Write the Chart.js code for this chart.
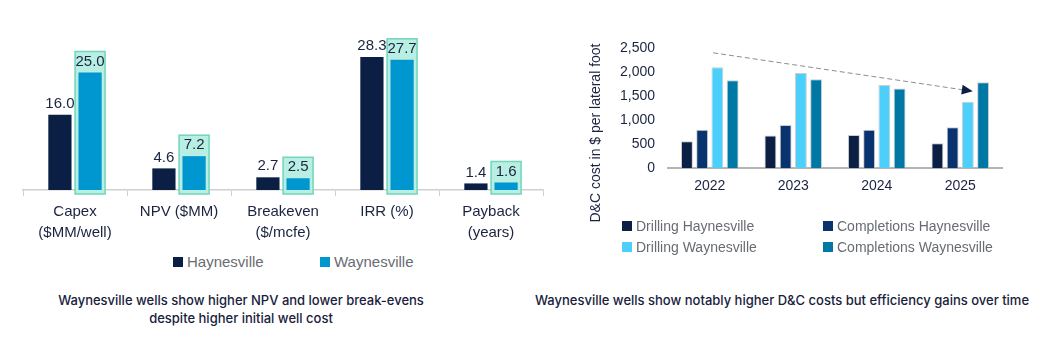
<!DOCTYPE html>
<html>
<head>
<meta charset="utf-8">
<script src="https://cdn.jsdelivr.net/npm/chart.js@4"></script>
<style>
  body { margin: 0; background: #fff; width: 1044px; height: 342px; overflow: hidden; position: relative; font-family: "Liberation Sans", Arial, sans-serif; }
  .box { position: absolute; }
  .legend { position: absolute; display: grid; color: #686c72; white-space: nowrap; }
  .legend span.sq { display: inline-block; width: 10px; height: 10px; margin-right: 4px; vertical-align: 0px; }
  .caption { position: absolute; text-align: center; font-family: Inter, "Noto Sans", sans-serif; font-size: 13px; font-weight: 500; line-height: 18px; color: #17213d; }
</style>
</head>
<body>
<div class="box" style="left:0;top:0;width:582px;height:248px"><canvas id="metrics"></canvas></div>
<div class="legend" id="legendLeft" style="left:173px;top:252px;grid-template-columns:147px 120px;font-size:15px;line-height:20px"></div>
<div class="caption" style="left:40px;top:291px;width:402px">Waynesville wells show higher NPV and lower break-evens<br>despite higher initial well cost</div>

<div class="box" style="left:578px;top:0;width:444px;height:230px"><canvas id="costs"></canvas></div>
<div class="legend" id="legendRight" style="left:622px;top:216px;grid-template-columns:201px 200px;font-size:14px;line-height:21px"></div>
<div class="caption" style="left:522px;top:291px;width:520px">Waynesville wells show notably higher D&amp;C costs but efficiency gains over time</div>

<script>
// left chart data
const metricLabels = [['Capex', '($MM/well)'], 'NPV ($MM)', ['Breakeven', '($/mcfe)'], 'IRR (%)', ['Payback', '(years)']];
const haynesville = [16.0, 4.6, 2.7, 28.3, 1.4];
const waynesville = [25.0, 7.2, 2.5, 27.7, 1.6];

// right chart data
const years = ['2022', '2023', '2024', '2025'];
const drillingHay = [560, 680, 690, 520];
const completionsHay = [800, 900, 800, 850];
const drillingWay = [2100, 1980, 1730, 1380];
const completionsWay = [1830, 1850, 1660, 1790];
const costTicks = [0, 500, 1000, 1500, 2000, 2500];

const textDark = '#1b2340';
const fontName = '"Liberation Sans", Arial, sans-serif';

function buildLegend(el, items) {
    items.forEach(it => {
        const d = document.createElement('div');
        d.innerHTML = '<span class="sq" style="background:' + it.color + '"></span>' + it.label;
        el.appendChild(d);
    });
}

// box behind Waynesville bars + value labels
const highlightBox = {
    id: 'highlightBox',
    beforeDatasetsDraw(chart) {
        const ctx = chart.ctx;
        const base = chart.scales.y.getPixelForValue(0);
        chart.getDatasetMeta(1).data.forEach(bar => {
            ctx.save();
            ctx.fillStyle = '#b8efe2';
            ctx.strokeStyle = '#72d5bc';
            ctx.lineWidth = 1.5;
            ctx.fillRect(bar.x - 15, bar.y - 21, 30, base + 4 - (bar.y - 21));
            ctx.strokeRect(bar.x - 15, bar.y - 21, 30, base + 4 - (bar.y - 21));
            ctx.restore();
        });
    },
    afterDatasetsDraw(chart) {
        const ctx = chart.ctx;
        ctx.save();
        ctx.font = '15px ' + fontName;
        ctx.fillStyle = textDark;
        ctx.textAlign = 'center';
        ctx.textBaseline = 'middle';
        chart.data.datasets.forEach((ds, i) => {
            chart.getDatasetMeta(i).data.forEach((bar, j) => {
                ctx.fillText(ds.data[j].toFixed(1), bar.x, bar.y - 11);
            });
        });
        ctx.restore();
    }
};

new Chart(document.getElementById('metrics'), {
    type: 'bar',
    data: {
        labels: metricLabels,
        datasets: [
            { label: 'Haynesville', data: haynesville, backgroundColor: '#0b1f44' },
            { label: 'Waynesville', data: waynesville, backgroundColor: '#0096cf' }
        ]
    },
    options: {
        responsive: true,
        maintainAspectRatio: false,
        animation: false,
        layout: { padding: { top: 49, left: 23, right: 39, bottom: 0 } },
        datasets: { bar: { categoryPercentage: 0.58, barPercentage: 0.77 } },
        plugins: { legend: { display: false }, tooltip: { enabled: false } },
        scales: {
            x: {
                grid: { display: true, drawOnChartArea: false, color: '#cfcfcf', tickLength: 6, offset: true },
                border: { color: '#cfcfcf', width: 1.5 },
                ticks: { color: textDark, font: { family: fontName, size: 15, lineHeight: 1.4 }, padding: 5, maxRotation: 0, autoSkip: false }
            },
            y: { display: false, min: 0, max: 30 }
        }
    },
    plugins: [highlightBox]
});

// dashed trend arrow + rotated axis title
const trendArrow = {
    id: 'trendArrow',
    afterDatasetsDraw(chart) {
        const ctx = chart.ctx;
        const x = chart.scales.x, y = chart.scales.y;
        const cw = x.getPixelForValue(1) - x.getPixelForValue(0);
        const x0 = x.getPixelForValue(0) + 0.04 * cw, y0 = y.getPixelForValue(2400);
        const x1 = x.getPixelForValue(3) + 0.15 * cw, y1 = y.getPixelForValue(1600);
        const ang = Math.atan2(y1 - y0, x1 - x0);
        const hx = x1 - 11 * Math.cos(ang), hy = y1 - 11 * Math.sin(ang);
        ctx.save();
        ctx.strokeStyle = '#8d8d8d';
        ctx.lineWidth = 1;
        ctx.setLineDash([5, 3]);
        ctx.beginPath();
        ctx.moveTo(x0, y0);
        ctx.lineTo(hx, hy);
        ctx.stroke();
        ctx.setLineDash([]);
        ctx.fillStyle = '#0b1f44';
        ctx.beginPath();
        ctx.moveTo(x1, y1);
        ctx.lineTo(hx + 5 * Math.sin(ang), hy - 5 * Math.cos(ang));
        ctx.lineTo(hx - 5 * Math.sin(ang), hy + 5 * Math.cos(ang));
        ctx.closePath();
        ctx.fill();

        ctx.translate(18, 133);
        ctx.rotate(-Math.PI / 2);
        ctx.font = '14px ' + fontName;
        ctx.fillStyle = textDark;
        ctx.textAlign = 'center';
        ctx.textBaseline = 'middle';
        ctx.fillText('D&C cost in $ per lateral foot', 0, 0);
        ctx.restore();
    }
};

const costSeries = [
    { label: 'Drilling Haynesville', data: drillingHay, backgroundColor: '#0b1f44' },
    { label: 'Completions Haynesville', data: completionsHay, backgroundColor: '#08336f' },
    { label: 'Drilling Waynesville', data: drillingWay, backgroundColor: '#4dcffc' },
    { label: 'Completions Waynesville', data: completionsWay, backgroundColor: '#0078a6' }
];

new Chart(document.getElementById('costs'), {
    type: 'bar',
    data: {
        labels: years,
        datasets: costSeries.map(s => Object.assign({ borderColor: 'rgba(200,200,200,0.9)', borderWidth: 1 }, s))
    },
    options: {
        responsive: true,
        maintainAspectRatio: false,
        animation: false,
        layout: { padding: { top: 48, left: 29, right: 20, bottom: 25 } },
        datasets: { bar: { categoryPercentage: 0.73, barPercentage: 0.78 } },
        plugins: { legend: { display: false }, tooltip: { enabled: false } },
        scales: {
            x: {
                grid: { display: false, drawTicks: false },
                border: { color: '#b4b4b4', width: 2 },
                ticks: { color: textDark, font: { family: fontName, size: 14 }, padding: 10 }
            },
            y: {
                min: 0, max: 2500,
                afterBuildTicks(axis) { axis.ticks = costTicks.map(v => ({ value: v })); },
                grid: { display: false, drawTicks: false },
                border: { display: false },
                ticks: { color: textDark, font: { family: fontName, size: 14 }, padding: 13,
                         callback: v => v.toLocaleString('en-US') }
            }
        }
    },
    plugins: [trendArrow]
});

buildLegend(document.getElementById('legendLeft'), [
    { label: 'Haynesville', color: '#0b1f44' }, { label: 'Waynesville', color: '#0096cf' }
]);
buildLegend(document.getElementById('legendRight'), [
    { label: costSeries[0].label, color: costSeries[0].backgroundColor },
    { label: costSeries[1].label, color: costSeries[1].backgroundColor },
    { label: costSeries[2].label, color: costSeries[2].backgroundColor },
    { label: costSeries[3].label, color: costSeries[3].backgroundColor }
]);
</script>
</body>
</html>
